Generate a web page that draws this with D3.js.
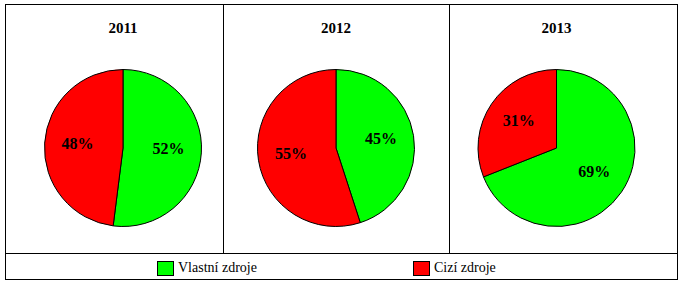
<!DOCTYPE html>
<html>
<head>
<meta charset="utf-8">
<script src="https://cdn.jsdelivr.net/npm/d3@7"></script>
<style>
body{margin:0;background:#fff;}
svg text{font-family:"Liberation Serif","Times New Roman",serif;}
</style>
</head>
<body>
<div id="chart"></div>
<script>
var years = ["2011","2012","2013"];
var series = ["Vlastní zdroje","Cizí zdroje"];
var vlastni = [52,45,69];
var cizi = [48,55,31];
var colors = ["#00ff00","#ff0000"];

var W = 691, H = 290;
var svg = d3.select("#chart").append("svg").attr("width",W).attr("height",H);

var boxL = 5.5, boxR = 677.5, boxT = 4.5, boxB = 279.5, legT = 253.5;
// pie centres and panel dividers (layout)
var cx = d3.scaleOrdinal().domain(years).range([123,336,556.5]);
var divider = d3.scaleOrdinal().domain(years.slice(1)).range([223.5,449.5]);
var color = d3.scaleOrdinal().domain(series).range(colors);

// frame
svg.append("rect").attr("x",boxL).attr("y",boxT).attr("width",boxR-boxL).attr("height",boxB-boxT)
  .attr("fill","none").attr("stroke","#000");
svg.append("line").attr("x1",boxL).attr("x2",boxR).attr("y1",legT).attr("y2",legT).attr("stroke","#000");
svg.selectAll("line.div").data(years.slice(1)).enter().append("line").attr("class","div")
  .attr("x1",function(d){return divider(d);}).attr("x2",function(d){return divider(d);})
  .attr("y1",boxT).attr("y2",legT).attr("stroke","#000");

var r = 78.5, cy = 148;
var pie = d3.pie().sort(null).value(function(d){return d.v;});
var arc = d3.arc().innerRadius(0).outerRadius(r);
var labelArc = d3.arc().innerRadius(r*0.58).outerRadius(r*0.58);

years.forEach(function(y,i){
  var g = svg.append("g").attr("transform","translate("+cx(y)+","+cy+")");
  svg.append("text").attr("x",cx(y)).attr("y",33).attr("text-anchor","middle")
    .attr("font-size",15).attr("font-weight","bold").text(y);
  var data = [{k:series[0],v:vlastni[i]},{k:series[1],v:cizi[i]}];
  var arcs = pie(data);
  g.selectAll("path").data(arcs).enter().append("path")
    .attr("d",arc).attr("fill",function(d){return color(d.data.k);})
    .attr("stroke","#000").attr("stroke-width",1);
  g.selectAll("text").data(arcs).enter().append("text")
    .attr("transform",function(d){var c=labelArc.centroid(d);return "translate("+c[0]+","+(c[1]-2)+")";})
    .attr("text-anchor","middle").attr("dy","0.35em")
    .attr("font-size",16).attr("font-weight","bold")
    .text(function(d){return d.data.v+"%";});
});

// legend
var legX = d3.scaleOrdinal().domain(series).range([157.5,413.5]);
series.forEach(function(s){
  svg.append("rect").attr("x",legX(s)).attr("y",261.5).attr("width",16).attr("height",14)
    .attr("fill",color(s)).attr("stroke","#000");
  svg.append("text").attr("x",legX(s)+20.5).attr("y",272)
    .attr("font-size",14).text(s);
});
</script>
</body>
</html>
